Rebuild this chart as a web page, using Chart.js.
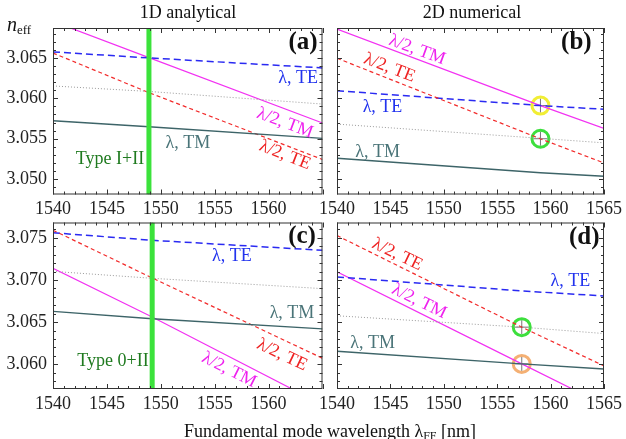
<!DOCTYPE html>
<html>
<head>
<meta charset="utf-8">
<script src="https://cdn.jsdelivr.net/npm/chart.js@4"></script>
<style>
body { margin: 0; background: #fff; }
#wrap { position: relative; width: 626px; height: 439px; font-family: "Liberation Serif", serif; color: #111; }
canvas { position: absolute; left: 0; top: 0; }
.t { position: absolute; font-size: 18px; line-height: 20px; white-space: nowrap; }
</style>
</head>
<body>
<div id="wrap">
  <canvas id="pa" width="626" height="439"></canvas>
  <canvas id="pb" width="626" height="439"></canvas>
  <canvas id="pc" width="626" height="439"></canvas>
  <canvas id="pd" width="626" height="439"></canvas>
  <div class="t" style="left:188px;top:2px;transform:translateX(-50%)">1D analytical</div>
  <div class="t" style="left:472px;top:2px;transform:translateX(-50%)">2D numerical</div>
  <div class="t" style="left:7px;top:14px"><i style="font-size:20px">n</i><span style="font-size:13px;position:relative;top:3px">eff</span></div>
  <div class="t" style="left:330px;top:421px;transform:translateX(-50%)">Fundamental mode wavelength λ<span style="font-size:12px;position:relative;top:3px">FF</span> [nm]</div>
</div>
<script>
// axes
var xRange = [1540, 1565];
var xTicksLeft = [1540, 1545, 1550, 1555, 1560];
var xTicksRight = [1540, 1545, 1550, 1555, 1560, 1565];
var yRangeTop = [3.0481, 3.0687];
var yRangeBottom = [3.05706, 3.07682];
var yTicksTop = [3.050, 3.055, 3.060, 3.065];
var yTicksBottom = [3.060, 3.065, 3.070, 3.075];

// (a) 1D analytical, type I+II
var aWl = [1540, 1548.9, 1565];
var aTE = [3.06574, 3.06500, 3.06376];
var aTE2 = [3.06560, 3.06070, 3.05243];
var aTM2 = [3.06952, 3.06503, 3.05694];
var aTM = [3.05722, 3.05648, 3.05504];
var aGray = [3.06153, 3.06085, 3.05929];
var aPhase = 1548.9;

// (b) 2D numerical
var bWl = [1540, 1559.05, 1565];
var bTE = [3.06094, 3.05910, 3.05864];
var bTE2 = [3.06496, 3.05499, 3.05200];
var bTM2 = [3.06856, 3.05910, 3.05628];
var bTM = [3.05259, 3.05080, 3.05036];
var bGray = [3.05681, 3.05505, 3.05449];
var bMarkWl = [1559.05, 1559.05];
var bMarkN = [3.05910, 3.05500];

// (c) 1D analytical, type 0+II
var cWl = [1540, 1549.2, 1565];
var cTE = [3.07560, 3.07471, 3.07352];
var cTE2 = [3.07590, 3.07024, 3.06071];
var cTM2 = [3.07139, 3.06560, 3.05520];
var cTM = [3.06627, 3.06540, 3.06420];
var cGray = [3.07102, 3.07020, 3.06897];
var cPhase = 1549.2;

// (d) 2D numerical
var dWl = [1540, 1557.3, 1565];
var dTE = [3.07036, 3.06870, 3.06810];
var dTE2 = [3.07527, 3.06440, 3.05980];
var dTM2 = [3.07096, 3.06004, 3.05520];
var dTM = [3.06154, 3.06004, 3.05944];
var dGray = [3.06575, 3.06440, 3.06364];
var dMarkWl = [1557.3, 1557.3];
var dMarkN = [3.06440, 3.06004];

var styles = {
  TE: { borderColor: '#2a2af2', borderWidth: 1.5, borderDash: [7, 4] },
  TE2: { borderColor: '#f22a2a', borderWidth: 1.2, borderDash: [4, 3] },
  TM2: { borderColor: '#f232f2', borderWidth: 1.2 },
  TM: { borderColor: '#3d6468', borderWidth: 1.4 },
  gray: { borderColor: '#9a9a9a', borderWidth: 1, borderDash: [1, 2] }
};
var colTE = '#2233ee', colTE2 = '#ee2222', colTM2 = '#ee22ee', colTM = '#4a7478', colGreen = '#1f7a1f';

function pts(xs, ys) {
  return xs.map(function (x, i) { return { x: x, y: ys[i] }; });
}

var framePlugin = {
  id: 'frame',
  afterDatasetsDraw: function (chart) {
    var ctx = chart.ctx, a = chart.chartArea, xs = chart.scales.x, ys = chart.scales.y;
    ctx.save();
    ctx.strokeStyle = '#333';
    ctx.lineWidth = 1;
    ctx.strokeRect(a.left + 0.5, a.top + 0.5, a.right - a.left - 1, a.bottom - a.top - 1);
    ctx.beginPath();
    for (var v = xs.min; v <= xs.max; v++) {
      var px = Math.round(xs.getPixelForValue(v)) + 0.5;
      var len = v % 5 === 0 ? 5 : 3;
      ctx.moveTo(px, a.bottom); ctx.lineTo(px, a.bottom - len);
      ctx.moveTo(px, a.top); ctx.lineTo(px, a.top + len);
    }
    for (var k = Math.ceil(ys.min * 1000); k <= Math.floor(ys.max * 1000); k++) {
      var py = Math.round(ys.getPixelForValue(k / 1000)) + 0.5;
      var l2 = k % 5 === 0 ? 5 : 3;
      ctx.moveTo(a.left, py); ctx.lineTo(a.left + l2, py);
      ctx.moveTo(a.right, py); ctx.lineTo(a.right - l2, py);
    }
    ctx.stroke();
    ctx.restore();
  }
};

function labelPlugin(labels) {
  return {
    id: 'labels',
    afterDraw: function (chart) {
      var ctx = chart.ctx, xs = chart.scales.x, ys = chart.scales.y;
      labels.forEach(function (l) {
        ctx.save();
        ctx.translate(xs.getPixelForValue(l.x), ys.getPixelForValue(l.y));
        ctx.rotate((l.a || 0) * Math.PI / 180);
        ctx.font = (l.bold ? 'bold 25px' : '18px') + ' "Liberation Serif", serif';
        ctx.fillStyle = l.c;
        ctx.textAlign = 'center';
        ctx.textBaseline = 'middle';
        ctx.fillText(l.t, 0, 0);
        ctx.restore();
      });
    }
  };
}

function makeChart(id, p) {
  var L = p.box[0], T = p.box[1], R = p.box[2], B = p.box[3];
  var YW = 53, XH = 22;
  var ds = [];
  if (p.phase !== undefined) {
    var band = [{ x: p.phase, y: p.yr[0] }, { x: p.phase, y: p.yr[1] }];
    ds.push({ data: band, showLine: true, pointRadius: 0, borderColor: '#3be23b', borderWidth: 5 });
    ds.push({ data: band, showLine: true, pointRadius: 0, borderColor: '#1b8a1b', borderWidth: 1, borderDash: [1, 1] });
  }
  p.lines.forEach(function (l) {
    ds.push(Object.assign({ data: pts(l.x, l.y), showLine: true, pointRadius: 0, tension: 0 }, l.s));
  });
  if (p.marks) {
    p.marks.forEach(function (m) {
      ds.push({ data: [m], showLine: false, pointRadius: 8.5, pointBorderWidth: 3, pointBorderColor: m.c, pointBackgroundColor: 'rgba(0,0,0,0)' });
      ds.push({ data: [m], showLine: false, pointStyle: 'cross', pointRadius: 7, pointBorderWidth: 1, pointBorderColor: 'rgba(60,60,60,0.7)' });
    });
  }
  new Chart(document.getElementById(id), {
    type: 'scatter',
    data: { datasets: ds },
    options: {
      responsive: false,
      animation: false,
      devicePixelRatio: 1,
      events: [],
      layout: { padding: { left: L - YW, top: T, right: 626 - R, bottom: 439 - B - XH } },
      plugins: { legend: { display: false }, tooltip: { enabled: false } },
      scales: {
        x: {
          type: 'linear', min: xRange[0], max: xRange[1],
          grid: { display: false, drawTicks: false }, border: { display: false },
          afterBuildTicks: function (s) { s.ticks = p.xTicks.map(function (v) { return { value: v }; }); },
          afterFit: function (s) { s.height = XH; },
          ticks: { padding: 4, autoSkip: false, maxRotation: 0, color: '#222',
            font: { family: 'Liberation Serif', size: 18 },
            callback: function (v) { return String(v); } }
        },
        y: {
          type: 'linear', min: p.yr[0], max: p.yr[1],
          grid: { display: false, drawTicks: false }, border: { display: false },
          afterBuildTicks: function (s) { s.ticks = p.yTicks.map(function (v) { return { value: v }; }); },
          afterFit: function (s) { s.width = YW; },
          ticks: { display: p.showY, padding: 6, color: '#222',
            font: { family: 'Liberation Serif', size: 18 },
            callback: function (v) { return v.toFixed(3); } }
        }
      }
    },
    plugins: [framePlugin, labelPlugin(p.labels)]
  });
}

makeChart('pa', {
  box: [53, 28, 322.5, 194.5], yr: yRangeTop, xTicks: xTicksLeft, yTicks: yTicksTop, showY: true,
  phase: aPhase,
  lines: [
    { x: aWl, y: aGray, s: styles.gray },
    { x: aWl, y: aTM, s: styles.TM },
    { x: aWl, y: aTE2, s: styles.TE2 },
    { x: aWl, y: aTE, s: styles.TE },
    { x: aWl, y: aTM2, s: styles.TM2 }
  ],
  labels: [
    { t: '(a)', x: 1563.19, y: 3.06686, c: '#111', bold: true },
    { t: 'λ, TE', x: 1562.73, y: 3.06252, c: colTE },
    { t: 'λ/2, TM', x: 1561.52, y: 3.05694, c: colTM2, a: 20.5 },
    { t: 'λ/2, TE', x: 1561.52, y: 3.05296, c: colTE2, a: 21.4 },
    { t: 'λ, TM', x: 1552.52, y: 3.05445, c: colTM },
    { t: 'Type I+II', x: 1545.29, y: 3.05247, c: colGreen }
  ]
});

makeChart('pb', {
  box: [337, 28, 607, 194.5], yr: yRangeTop, xTicks: xTicksRight, yTicks: yTicksTop, showY: false,
  lines: [
    { x: bWl, y: bGray, s: styles.gray },
    { x: bWl, y: bTM, s: styles.TM },
    { x: bWl, y: bTE2, s: styles.TE2 },
    { x: bWl, y: bTE, s: styles.TE },
    { x: bWl, y: bTM2, s: styles.TM2 }
  ],
  marks: [
    { x: bMarkWl[0], y: bMarkN[0], c: 'rgba(240,236,30,0.9)' },
    { x: bMarkWl[1], y: bMarkN[1], c: 'rgba(40,220,40,0.9)' }
  ],
  labels: [
    { t: '(b)', x: 1562.41, y: 3.06686, c: '#111', bold: true },
    { t: 'λ/2, TM', x: 1547.5, y: 3.06599, c: colTM2, a: 20.1 },
    { t: 'λ/2, TE', x: 1544.91, y: 3.06376, c: colTE2, a: 21.1 },
    { t: 'λ, TE', x: 1544.26, y: 3.05892, c: colTE },
    { t: 'λ, TM', x: 1543.8, y: 3.05334, c: colTM }
  ]
});

makeChart('pc', {
  box: [53, 222.5, 322.5, 389], yr: yRangeBottom, xTicks: xTicksLeft, yTicks: yTicksBottom, showY: true,
  phase: cPhase,
  lines: [
    { x: cWl, y: cGray, s: styles.gray },
    { x: cWl, y: cTM, s: styles.TM },
    { x: cWl, y: cTE2, s: styles.TE2 },
    { x: cWl, y: cTE, s: styles.TE },
    { x: cWl, y: cTM2, s: styles.TM2 }
  ],
  labels: [
    { t: '(c)', x: 1563.1, y: 3.07515, c: '#111', bold: true },
    { t: 'λ, TE', x: 1556.6, y: 3.07281, c: colTE },
    { t: 'λ, TM', x: 1562.17, y: 3.06599, c: colTM },
    { t: 'λ/2, TE', x: 1561.24, y: 3.06111, c: colTE2, a: 25.3 },
    { t: 'λ/2, TM', x: 1556.33, y: 3.05932, c: colTM2, a: 26.8 },
    { t: 'Type 0+II', x: 1545.57, y: 3.06031, c: colGreen }
  ]
});

makeChart('pd', {
  box: [337, 222.5, 607, 389], yr: yRangeBottom, xTicks: xTicksRight, yTicks: yTicksBottom, showY: false,
  lines: [
    { x: dWl, y: dGray, s: styles.gray },
    { x: dWl, y: dTM, s: styles.TM },
    { x: dWl, y: dTE2, s: styles.TE2 },
    { x: dWl, y: dTE, s: styles.TE },
    { x: dWl, y: dTM2, s: styles.TM2 }
  ],
  marks: [
    { x: dMarkWl[0], y: dMarkN[0], c: 'rgba(40,220,40,0.9)' },
    { x: dMarkWl[1], y: dMarkN[1], c: 'rgba(240,150,70,0.75)' }
  ],
  labels: [
    { t: '(d)', x: 1563.15, y: 3.07504, c: '#111', bold: true },
    { t: 'λ/2, TE', x: 1545.65, y: 3.07301, c: colTE2, a: 25.7 },
    { t: 'λ, TE', x: 1561.85, y: 3.06983, c: colTE },
    { t: 'λ/2, TM', x: 1547.69, y: 3.06745, c: colTM2, a: 26 },
    { t: 'λ, TM', x: 1543.33, y: 3.06254, c: colTM }
  ]
});
</script>
</body>
</html>
